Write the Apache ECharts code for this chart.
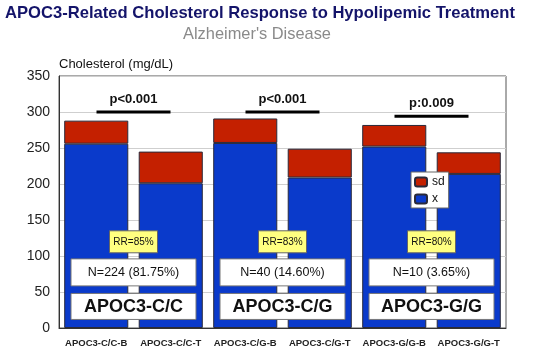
<!DOCTYPE html>
<html><head><meta charset="utf-8">
<script src="https://cdn.jsdelivr.net/npm/echarts@6/dist/echarts.min.js"></script>
<style>html,body{margin:0;padding:0;background:#fff}#c{width:550px;height:351px}</style>
</head><body><div id="c"></div>
<script>
const categories = ['APOC3-C/C-B','APOC3-C/C-T','APOC3-C/G-B','APOC3-C/G-T','APOC3-G/G-B','APOC3-G/G-T'];
const meanValues = [256, 201, 257, 209, 252, 214];
const sdValues = [32, 44, 34, 40, 30, 30];
const yTicks = [0, 50, 100, 150, 200, 250, 300, 350];
const pLabels = ['p<0.001', 'p<0.001', 'p:0.009'];
const pLineValues = [300, 300, 294];
const rrLabels = ['RR=85%', 'RR=83%', 'RR=80%'];
const nLabels = ['N=224 (81.75%)', 'N=40 (14.60%)', 'N=10 (3.65%)'];
const groupLabels = ['APOC3-C/C', 'APOC3-C/G', 'APOC3-G/G'];

const chart = echarts.init(document.getElementById('c'));
const F = 'Liberation Sans, Arial, sans-serif';
chart.setOption({
  animation: false,
  grid: {left: 59, right: 44, top: 76, bottom: 23, show: true, borderColor: '#555', borderWidth: 1},
  legend: {
    data: ['sd', 'x'], orient: 'vertical', left: 411, top: 172, itemWidth: 12, itemHeight: 9, itemGap: 5,
    padding: [4, 4, 3, 3], backgroundColor: '#fff', borderColor: '#666', borderWidth: 1,
    textStyle: {fontFamily: F, fontSize: 12, color: '#111'}
  },
  xAxis: {
    type: 'category', data: categories,
    axisTick: {show: false}, axisLine: {lineStyle: {color: '#333'}},
    axisLabel: {fontFamily: F, fontSize: 9.5, fontWeight: 'bold', color: '#222', margin: 10, interval: 0}
  },
  yAxis: {
    type: 'value', min: yTicks[0], max: yTicks[yTicks.length - 1], interval: 50,
    name: 'Cholesterol (mg/dL)', nameLocation: 'end', nameGap: 5,
    nameTextStyle: {fontFamily: F, fontSize: 13, color: '#111', align: 'left'},
    axisLine: {show: true, lineStyle: {color: '#333'}}, axisTick: {show: false},
    axisLabel: {fontFamily: F, fontSize: 14, color: '#222', margin: 9},
    splitLine: {lineStyle: {color: '#cfcfcf'}}
  },
  series: [
    {name: 'x', type: 'bar', stack: 't', data: meanValues, barCategoryGap: '14%',
     itemStyle: {color: '#0a3acb', borderColor: '#2a2a3a', borderWidth: 1}},
    {name: 'sd', type: 'bar', stack: 't', data: sdValues,
     itemStyle: {color: '#c42000', borderColor: '#2a2a3a', borderWidth: 1}}
  ]
});

const els = [];
els.push({type: 'text', x: 260, y: 13, style: {text: 'APOC3-Related Cholesterol Response to Hypolipemic Treatment', fontFamily: F, fontSize: 16.6, fontWeight: 'bold', fill: '#14146a', align: 'center', verticalAlign: 'middle'}});
els.push({type: 'text', x: 257, y: 34, style: {text: "Alzheimer's Disease", fontFamily: F, fontSize: 16.4, fill: '#8a8a8a', align: 'center', verticalAlign: 'middle'}});
const catX = i => chart.convertToPixel({xAxisIndex: 0}, categories[i]);
const valY = v => chart.convertToPixel({yAxisIndex: 0}, v);
for (let g = 0; g < 3; g++) {
  const x1 = catX(2 * g), x2 = catX(2 * g + 1);
  const mid = (x1 + x2) / 2;
  const ly = valY(pLineValues[g]);
  els.push({type: 'line', shape: {x1: mid - 37, y1: ly, x2: mid + 37, y2: ly}, style: {stroke: '#000', lineWidth: 3}, z: 10});
  els.push({type: 'text', x: mid, y: ly - 6, style: {text: pLabels[g], fontFamily: F, fontSize: 13, fontWeight: 'bold', fill: '#111', align: 'center', verticalAlign: 'bottom'}, z: 10});
  const rrY = valY(135);
  els.push({type: 'rect', shape: {x: mid - 24, y: rrY, width: 48, height: 22}, style: {fill: '#ffff80', stroke: '#666', lineWidth: 1}, z: 10});
  els.push({type: 'text', x: mid, y: rrY + 11, style: {text: rrLabels[g], fontFamily: F, fontSize: 10, fill: '#111', align: 'center', verticalAlign: 'middle'}, z: 11});
  const nY = valY(96);
  els.push({type: 'rect', shape: {x: mid - 62.5, y: nY, width: 125, height: 27}, style: {fill: '#fff', stroke: '#777', lineWidth: 1}, z: 10});
  els.push({type: 'text', x: mid, y: nY + 14, style: {text: nLabels[g], fontFamily: F, fontSize: 12.5, fill: '#111', align: 'center', verticalAlign: 'middle'}, z: 11});
  const gY = valY(48);
  els.push({type: 'rect', shape: {x: mid - 62.5, y: gY, width: 125, height: 26}, style: {fill: '#fff', stroke: '#777', lineWidth: 1}, z: 10});
  els.push({type: 'text', x: mid, y: gY + 14, style: {text: groupLabels[g], fontFamily: F, fontSize: 18, fontWeight: 'bold', fill: '#111', align: 'center', verticalAlign: 'middle'}, z: 11});
}
chart.setOption({graphic: els});
</script></body></html>
